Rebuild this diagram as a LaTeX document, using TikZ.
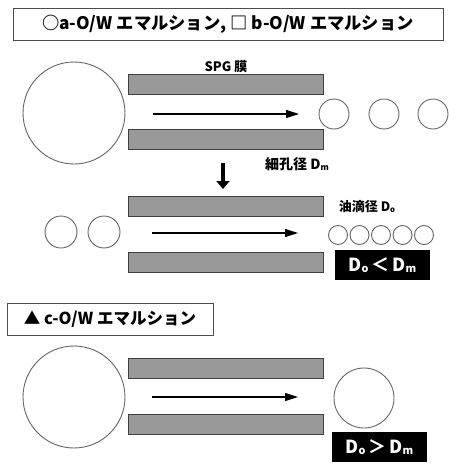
\documentclass[tikz,border=0pt]{standalone}
\usepackage{fontspec}
\setmainfont{Noto Sans CJK JP}
\usetikzlibrary{arrows.meta}
% droplet shading: white body, a light grey rim
\pgfdeclareradialshading{dropshade}{\pgfpoint{0bp}{0bp}}{%
  color(0bp)=(white); color(32bp)=(white); color(44bp)=(black!14);
  color(50bp)=(black!30)}
\newcommand{\sub}[1]{{\fontsize{0.6em}{0.6em}\selectfont\raisebox{-0.12em}{#1}}}
\tikzset{
  drop/.style={circle, draw=black!60, line width=0.9pt, shading=dropshade,
    inner sep=0pt, minimum size=#1},
  membrane/.style={rectangle, draw=black!75, line width=0.9pt, fill=black!40,
    minimum width=195pt, minimum height=20pt, inner sep=0pt},
  flow/.style={-{Triangle[length=13pt,width=8pt]}, line width=1.1pt},
  stepdown/.style={-{Triangle[length=8pt,width=13pt]}, line width=3.5pt},
  titlebox/.style={rectangle, draw=black!70, line width=0.8pt, fill=white,
    minimum height=32pt, inner sep=0pt},
  result/.style={rectangle, fill=black, text=white, minimum width=95pt,
    minimum height=30pt, inner sep=0pt, font=\bfseries\fontsize{18}{18}\selectfont},
  caption/.style={inner sep=0pt, font=\bfseries\fontsize{13}{13}\selectfont}
}
\begin{document}
\begin{tikzpicture}[x=1pt,y=-1pt]
\useasboundingbox[fill=white] (0,0) rectangle (449,464);

% ---- a / b emulsions: large droplets through the membrane
\node[titlebox, minimum width=430pt, font=\bfseries\fontsize{17.3}{17.3}\selectfont] (tab) at (228,24)
  {○a-O/W エマルション, □ b-O/W エマルション};

\node[drop=102pt] (big1) at (74,113) {};
\node[membrane] (m1t) at (225.5,84) {};
\node[membrane] (m1b) at (225.5,139) {};
\node[caption] (spg) at (226,67) {SPG 膜};
\coordinate (f1s) at (153,114);
\coordinate (f1e) at (299,114);
\draw[flow] (f1s) -- (f1e);
\node[drop=30pt] (s11) at (334,114) {};
\node[drop=30pt] (s12) at (384,114) {};
\node[drop=30pt] (s13) at (433,114) {};
\node[caption, font=\bfseries\fontsize{14}{14}\selectfont] (pore) at (297,164) {細孔径 D\sub{m}};

\coordinate (d1) at (223,163);
\coordinate (d2) at (223,189);
\draw[stepdown] (d1) -- (d2);

% ---- droplets smaller than the pores
\node[membrane] (m2t) at (225.5,206) {};
\node[membrane] (m2b) at (225.5,262.5) {};
\node[drop=32pt] (l21) at (61,232) {};
\node[drop=32pt] (l22) at (104,232) {};
\coordinate (f2s) at (152,233);
\coordinate (f2e) at (298,233);
\draw[flow] (f2s) -- (f2e);
\node[caption] (oil) at (367,207) {油滴径 D\sub{o}};
\foreach \i/\x in {1/338,2/359.5,3/381,4/402.5,5/424}
  \node[drop=19pt] (t\i) at (\x,235) {};
\node[result] (lt) at (382.5,265) {D\sub{o}\,＜\,D\sub{m}};

% ---- c emulsion: droplets larger than the pores
\node[titlebox, minimum width=206pt, font=\bfseries\fontsize{16.5}{16.5}\selectfont] (tc) at (110,319)
  {▲ c-O/W エマルション};
\node[drop=102pt] (big3) at (74,397) {};
\node[membrane] (m3t) at (226,368.5) {};
\node[membrane] (m3b) at (226,424.5) {};
\coordinate (f3s) at (152,397);
\coordinate (f3e) at (298,397);
\draw[flow] (f3s) -- (f3e);
\node[drop=60pt] (med) at (364,398) {};
\node[result] (gt) at (379.5,447) {D\sub{o}\,＞\,D\sub{m}};
\end{tikzpicture}
\end{document}
